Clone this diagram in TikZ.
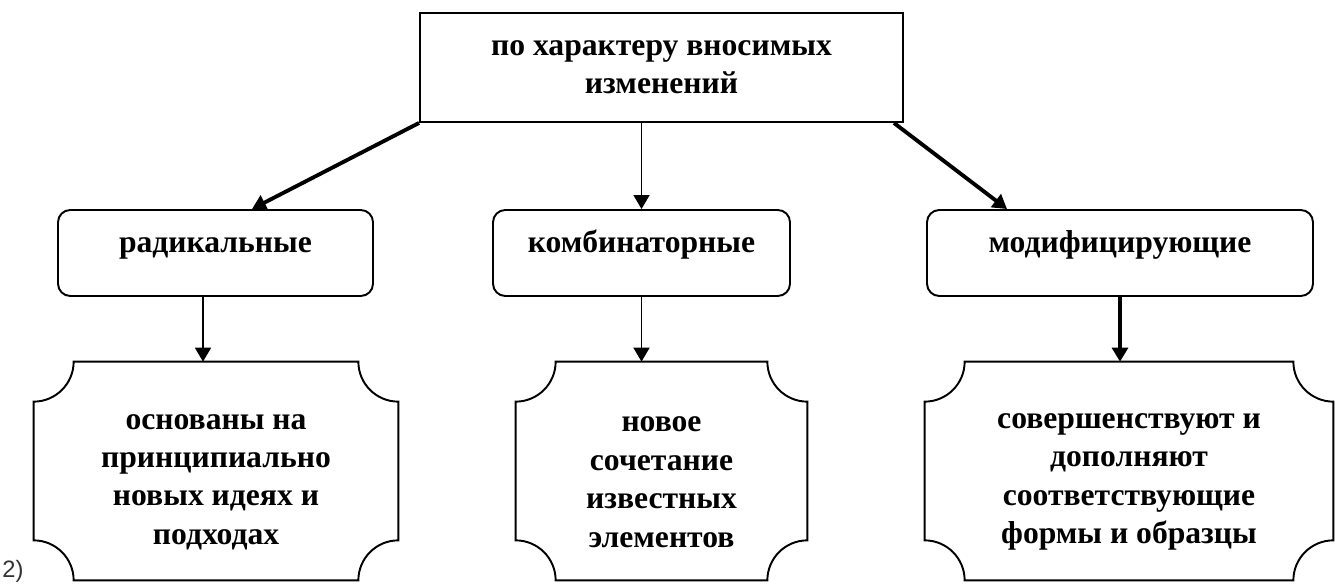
\documentclass[tikz,border=0pt]{standalone}
\usepackage{fontspec}
\setmainfont{Liberation Serif}
\newfontfamily\labelfont{Liberation Sans}
\usepackage{tikz}
\usetikzlibrary{arrows.meta,calc}

% frame with concave (cut) corners round a node
\newcommand{\cutframe}[2][0.8]{%
  \draw[line width=1.1pt]
    ($(#2.north west)+(#1,0)$) -- ($(#2.north east)+(-#1,0)$)
    arc[start angle=180,end angle=270,radius=#1] -- ($(#2.south east)+(0,#1)$)
    arc[start angle=90,end angle=180,radius=#1] -- ($(#2.south west)+(#1,0)$)
    arc[start angle=0,end angle=90,radius=#1] -- ($(#2.north west)+(0,-#1)$)
    arc[start angle=270,end angle=360,radius=#1] -- cycle;}
\newcommand{\lift}{\rule{0pt}{0.74cm}}

\begin{document}
\begin{tikzpicture}[
  txt/.style={align=center,font=\fontsize{18}{21.5}\selectfont\bfseries},
  topbox/.style={txt,draw,line width=1.1pt,minimum width=9.66cm,minimum height=2.18cm,inner sep=0pt},
  kindbox/.style={txt,draw,line width=1.1pt,rounded corners=7pt,minimum height=1.72cm,inner sep=0pt,text height=0.3cm,text depth=0.3cm},
  notebox/.style={txt,font=\fontsize{18}{21.9}\selectfont\bfseries,minimum height=4.36cm,inner sep=0pt},
  arr/.style={-{Triangle[width=0.32cm,length=0.28cm]},line width=1pt},
  fatarr/.style={arr,line width=2.2pt}]
  \useasboundingbox (0,0) rectangle (26.7,-11.7);

  \node[topbox] (kind) at (13.23,-1.35) {по характеру вносимых\\изменений};

  \node[kindbox,minimum width=6.3cm] (rad) at (4.31,-5.06) {радикальные};
  \node[kindbox,minimum width=5.94cm] (comb) at (12.83,-5.06) {комбинаторные};
  \node[kindbox,minimum width=7.72cm] (modif) at (22.4,-5.06) {модифицирующие};

  \node[notebox,minimum width=7.28cm] (radn) at (4.32,-9.42) {\lift основаны на\\принципиально\\новых идеях и\\подходах};
  \node[notebox,minimum width=5.82cm] (combn) at (13.23,-9.42) {\lift новое\\сочетание\\известных\\элементов};
  \node[notebox,minimum width=8.16cm] (modifn) at (22.58,-9.42) {\lift совершенствуют и\\дополняют\\соответствующие\\формы и образцы};
  \cutframe{radn} \cutframe{combn} \cutframe{modifn}

  \draw[fatarr] (kind.south west) -- ($(rad.north)+(0.73,0)$);
  \draw[arr] (comb.north |- kind.south) -- (comb.north);
  \draw[fatarr] ($(kind.south east)+(-0.2,0)$) -- ($(modif.north)+(-2.26,0)$);

  \coordinate (radout) at ($(rad.south)+(-0.25,0)$);
  \draw[arr] (radout) -- (radout |- radn.north);
  \draw[arr] (comb.south) -- (comb.south |- combn.north);
  \draw[arr,line width=1.8pt] (modif.south) -- (modif.south |- modifn.north);

  \node[anchor=base west,inner sep=0pt,text=black!80,font=\labelfont\fontsize{13.5}{16}\selectfont] (num) at (0.04,-11.54) {2)};
\end{tikzpicture}
\end{document}
